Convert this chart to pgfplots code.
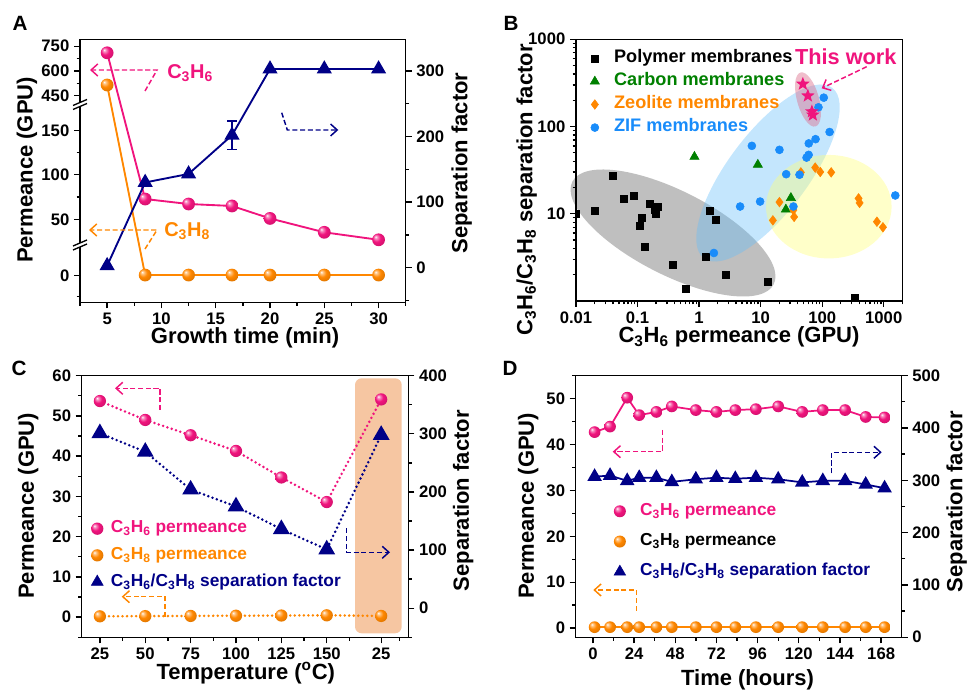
\documentclass[border=0pt]{standalone}
\usepackage{fontspec}
\setmainfont{Liberation Sans}
\usepackage{pgfplots}
\pgfplotsset{compat=1.18}
\usetikzlibrary{arrows.meta}

\definecolor{cpink}{RGB}{240,20,125}
\definecolor{corange}{RGB}{255,135,0}
\definecolor{cnavy}{RGB}{0,0,135}
\definecolor{cgreen}{RGB}{0,128,0}
\definecolor{cblue}{RGB}{25,140,250}
\definecolor{cpeach}{RGB}{246,198,162}
\definecolor{eblue}{RGB}{100,190,250}
\definecolor{eyellow}{RGB}{255,255,120}
\definecolor{epink}{RGB}{220,110,140}

\pgfdeclareradialshading{pinkballsh}{\pgfqpoint{-12bp}{12bp}}{color(0bp)=(white); color(5bp)=(white!55!cpink); color(16bp)=(cpink); color(30bp)=(cpink!88!black); color(50bp)=(cpink!70!black)}
\pgfdeclareradialshading{orangeballsh}{\pgfqpoint{-12bp}{12bp}}{color(0bp)=(white); color(5bp)=(white!55!corange); color(16bp)=(corange); color(30bp)=(corange!88!black); color(50bp)=(corange!72!black)}
\pgfdeclareplotmark{pinkball}{\pgfpathcircle{\pgfpointorigin}{\pgfplotmarksize}\pgfshadepath{pinkballsh}{0}\pgfusepath{}}
\pgfdeclareplotmark{orangeball}{\pgfpathcircle{\pgfpointorigin}{\pgfplotmarksize}\pgfshadepath{orangeballsh}{0}\pgfusepath{}}
\pgfdeclareplotmark{fstar}{%
 \pgfpathmoveto{\pgfpointpolar{90}{\pgfplotmarksize}}%
 \pgfpathlineto{\pgfpointpolar{126}{0.42*\pgfplotmarksize}}%
 \pgfpathlineto{\pgfpointpolar{162}{\pgfplotmarksize}}%
 \pgfpathlineto{\pgfpointpolar{198}{0.42*\pgfplotmarksize}}%
 \pgfpathlineto{\pgfpointpolar{234}{\pgfplotmarksize}}%
 \pgfpathlineto{\pgfpointpolar{270}{0.42*\pgfplotmarksize}}%
 \pgfpathlineto{\pgfpointpolar{306}{\pgfplotmarksize}}%
 \pgfpathlineto{\pgfpointpolar{342}{0.42*\pgfplotmarksize}}%
 \pgfpathlineto{\pgfpointpolar{18}{\pgfplotmarksize}}%
 \pgfpathlineto{\pgfpointpolar{54}{0.42*\pgfplotmarksize}}%
 \pgfpathclose\pgfusepathqfill}

\newcommand{\Cc}{C\textsubscript{3}H\textsubscript{6}}
\newcommand{\Ca}{C\textsubscript{3}H\textsubscript{8}}
\newcommand{\lab}{\fontsize{16.5}{19}\selectfont\bfseries}
\newcommand{\legf}{\fontsize{13}{15}\selectfont\bfseries}

\pgfplotsset{
 panel/.style={scale only axis, anchor=south west,
  axis line style={line width=1.1pt},
  tick style={line width=1pt, black},
  tick align=outside, major tick length=4.5pt, minor tick length=2.6pt,
  tick label style={font=\fontsize{12.5}{15}\selectfont\bfseries},
  /pgf/number format/assume math mode=true},
 legsty/.style={legend cell align=left,
  legend image code/.code={\path (-6pt,-1pt) (6pt,1pt); \draw[##1] plot coordinates {(0pt,0pt)};}},
 dotsty/.style={line width=2.1pt, line cap=round, dash pattern=on 0pt off 3.4pt}
}
\tikzset{annot/.style={line width=1.1pt, dash pattern=on 3.8pt off 2pt, -{Straight Barb[length=5pt,width=9pt]}}}

\begin{document}
\begin{tikzpicture}
\useasboundingbox (0,0) rectangle (725.25pt,518.25pt);
\begin{scope}[x=0.75pt,y=-0.75pt,yshift=518.25pt]
 \fill[black!25, shift={(673,233)}, rotate=-27] (0,0) ellipse [x radius=84.75pt, y radius=31.5pt];
 \fill[eblue, opacity=0.38, shift={(768,173)}, rotate=53] (0,0) ellipse [x radius=80pt, y radius=30pt];
 \fill[eyellow, opacity=0.4] (828.8,206.7) ellipse [x radius=47.1pt, y radius=38.8pt];
 \fill[epink, opacity=0.45, shift={(808,99.5)}, rotate=-74.5] (0,0) ellipse [x radius=21pt, y radius=8.25pt];
 \fill[cpeach, rounded corners=5pt] (355,378.3) rectangle (401.7,633.3);
\end{scope}

% ---------------- Panel A ----------------
\begin{axis}[panel, at={(60pt,291.5pt)}, width=244.3pt, height=197.25pt,
 xmin=2.5, xmax=32.5, ymin=0, ymax=263, tick pos=left,
 xtick={5,10,15,20,25,30}, minor xtick={2.5,7.5,12.5,17.5,22.5,27.5,32.5},
 ytick={27,83,127.5,172,206.6,231.4,256.1}, yticklabels={0,50,100,150,450,600,750},
 minor ytick={6,105.3,149.8,219,243.7}]
\addplot[cpink, line width=1.4pt, mark=pinkball, mark size=4.8pt] table[x=t, y expr={\thisrow{v}<20 ? 27+0.886*\thisrow{v} : (\thisrow{v}<300 ? 38.5+0.89*\thisrow{v} : 206.6+0.165*(\thisrow{v}-450))}] {
t v
5 710
8.5 72.8
12.5 67.2
16.5 65
20 51
25 35.4
30 27
};
\addplot[corange, line width=1.4pt, mark=orangeball, mark size=4.8pt] table[x=t, y expr={\thisrow{v}<20 ? 27+0.886*\thisrow{v} : (\thisrow{v}<300 ? 38.5+0.89*\thisrow{v} : 206.6+0.165*(\thisrow{v}-450))}] {
t v
5 515
8.5 0.3
12.5 0.3
16.5 0.3
20 0.3
25 0.3
30 0.3
};
\end{axis}
\begin{axis}[panel, at={(60pt,291.5pt)}, width=244.3pt, height=197.25pt,
 xmin=2.5, xmax=32.5, ymin=-52.8, ymax=348.3, axis x line=none, axis y line*=right,
 ytick={0,100,200,300}, minor ytick={-50,50,150,250}]
\addplot[draw=none, forget plot, error bars/.cd, y dir=both, y explicit,
 error bar style={line width=1.1pt, cnavy}, error mark options={rotate=90, mark size=3.5pt, line width=1.1pt, cnavy}]
 coordinates {(16.5,202) +- (0,22)};
\addplot[cnavy, line width=1.4pt, mark=triangle*, mark size=5.2pt, mark options={fill=cnavy}] coordinates {
(5,3) (8.5,130) (12.5,143) (16.5,202) (20,303) (25,303) (30,303)};
\end{axis}

% ---------------- Panel B ----------------
\begin{axis}[panel, xmode=log, ymode=log, at={(432pt,292.5pt)}, width=244.7pt, height=196.3pt,
 xmin=0.01, xmax=2000, ymin=1, ymax=1000, tick pos=left, clip marker paths=true,
 xtick={0.01,0.1,1,10,100,1000}, xticklabels={0.01,0.1,1,10,100,1000},
 ytick={10,100,1000}, yticklabels={10,100,1000},
 minor xtick={0.02,0.03,0.04,0.05,0.06,0.07,0.08,0.09,0.2,0.3,0.4,0.5,0.6,0.7,0.8,0.9,2,3,4,5,6,7,8,9,20,30,40,50,60,70,80,90,200,300,400,500,600,700,800,900,2000},
 minor ytick={2,3,4,5,6,7,8,9,20,30,40,50,60,70,80,90,200,300,400,500,600,700,800,900},
 legsty, legend style={at={(0.0316,0.962)}, anchor=north west, draw=none, fill=none, inner sep=0pt,
  row sep=3.9pt, column sep=8.25pt, font=\fontsize{13.6}{16}\selectfont\bfseries,
  nodes={inner sep=0pt, text height=9.9pt, text depth=3.5pt}}]
\addplot[only marks, mark=square*, mark size=2.6pt, black] coordinates {
(0.01,10) (0.02,10.9) (0.04,27.2) (0.059,14.9) (0.088,15.9) (0.158,12.9) (0.213,12.1) (0.193,11.1) (0.2,10.1) (0.118,9.1) (0.108,7.3) (0.129,4.2) (0.37,2.58) (0.615,1.39) (1.30,3.22) (1.49,10.9) (1.84,8.5) (2.7,1.99) (12.97,1.68) (333,1.10)};
\addlegendentry[text=black]{Polymer membranes}
\addplot[only marks, mark=triangle*, mark size=4pt, cgreen] coordinates {
(0.84,45) (9.0,36.5) (31,15.2) (25.7,11.2)};
\addlegendentry[text=cgreen]{Carbon membranes}
\addplot[only marks, mark=diamond*, mark size=3.6pt, corange] coordinates {
(45,29.8) (77,33.8) (93,30.1) (140,29.8) (20.2,13.6) (15.8,8.4) (34,11.0) (35,9.2) (390,15.0) (405,13.3) (775,8.1) (970,7.0)};
\addlegendentry[text=corange]{Zeolite membranes}
\addplot[only marks, mark=*, mark size=3pt, cblue] coordinates {
(106,214) (87,166) (132,86.5) (78,71.6) (60.5,64) (7.2,60) (20.2,54) (60.2,47.3) (55.7,44) (26,28.4) (42.8,28) (9.8,13.8) (4.64,12.1) (34.1,12.1) (1.74,3.55) (1540,16.2)};
\addlegendentry[text=cblue]{ZIF membranes}
\addplot[only marks, mark=fstar, mark size=5.4pt, cpink] coordinates {
(48.5,307) (58.5,225) (70.5,136) (68,148)};
\end{axis}

% ---------------- Panel C ----------------
\begin{axis}[panel, at={(61.3pt,40.3pt)}, width=245pt, height=196.2pt,
 xmin=15, xmax=195, ymin=-5, ymax=60, tick pos=left,
 xtick={25,50,75,100,125,150,180}, xticklabels={25,50,75,100,125,150,25},
 minor xtick={37.5,62.5,87.5,112.5,137.5,162.5,190},
 ytick={0,10,...,60}, minor ytick={-5,5,...,55},
 legsty, legend style={at={(0.0214,0.4495)}, anchor=north west, draw=none, fill=none, inner sep=0pt,
  row sep=6.9pt, column sep=4pt, font=\legf,
  nodes={inner sep=0pt, text height=9.6pt, text depth=3.5pt}}]
\addlegendimage{only marks, mark=pinkball, mark size=4.6pt}
\addlegendentry[text=cpink]{\Cc\ permeance}
\addlegendimage{only marks, mark=orangeball, mark size=4.6pt}
\addlegendentry[text=corange]{\Ca\ permeance}
\addlegendimage{only marks, mark=triangle*, mark size=5.2pt, cnavy, mark options={fill=cnavy}}
\addlegendentry[text=cnavy]{\Cc/\Ca\ separation factor}
\addplot[forget plot, cpink, dotsty, mark=pinkball, mark size=4.6pt] coordinates {
(25,53.7) (50,49.0) (75,45.2) (100,41.3) (125,34.7) (150,28.6) (180,54.1)};
\addplot[forget plot, corange, dotsty, mark=orangeball, mark size=4.6pt] coordinates {
(25,0.2) (50,0.25) (75,0.3) (100,0.35) (125,0.4) (150,0.45) (180,0.3)};
\end{axis}
\begin{axis}[panel, at={(61.3pt,40.3pt)}, width=245pt, height=196.2pt,
 xmin=15, xmax=195, ymin=-50, ymax=400, axis x line=none, axis y line*=right,
 ytick={0,100,...,400}, minor ytick={-50,50,150,250,350}]
\addplot[cnavy, dotsty, mark=triangle*, mark size=5.2pt, mark options={solid, fill=cnavy}] coordinates {
(25,301) (50,269) (75,204) (100,175) (125,136) (150,101) (180,298)};
\end{axis}

% ---------------- Panel D ----------------
\begin{axis}[panel, at={(431.8pt,40.3pt)}, width=244.5pt, height=196.2pt,
 xmin=-10, xmax=180, ymin=-2, ymax=55, tick pos=left,
 xtick={0,24,...,168}, minor xtick={12,36,...,156},
 ytick={0,10,...,50}, minor ytick={5,15,...,55},
 legsty, legend style={at={(0.1092,0.516)}, anchor=north west, draw=none, fill=none, inner sep=0pt,
  row sep=9.6pt, column sep=9pt, font=\legf,
  nodes={inner sep=0pt, text height=9.6pt, text depth=3.5pt}}]
\addlegendimage{only marks, mark=pinkball, mark size=4.5pt}
\addlegendentry[text=cpink]{\Cc\ permeance}
\addlegendimage{only marks, mark=orangeball, mark size=4.5pt}
\addlegendentry[text=black]{\Ca\ permeance}
\addlegendimage{only marks, mark=triangle*, mark size=5pt, cnavy, mark options={fill=cnavy}}
\addlegendentry[text=cnavy]{\Cc/\Ca\ separation factor}
\addplot[forget plot, cpink, line width=1.3pt, mark=pinkball, mark size=4.4pt] coordinates {
(1,42.7) (10,43.9) (20,50.2) (27,46.4) (37,47.1) (46,48.3) (60,47.5) (72,47.1) (83,47.5) (95,47.7) (108,48.3) (122,47.1) (134,47.5) (147,47.5) (159,46.0) (170,45.9)};
\addplot[forget plot, corange, line width=1.3pt, mark=orangeball, mark size=4.4pt] coordinates {
(1,0.2) (10,0.2) (20,0.2) (27,0.2) (37,0.2) (46,0.2) (60,0.2) (72,0.2) (83,0.2) (95,0.2) (108,0.2) (122,0.2) (134,0.2) (147,0.2) (159,0.2) (170,0.2)};
\end{axis}
\begin{axis}[panel, at={(431.8pt,40.3pt)}, width=244.5pt, height=196.2pt,
 xmin=-10, xmax=180, ymin=0, ymax=500, axis x line=none, axis y line*=right,
 ytick={0,100,...,500}, minor ytick={50,150,...,450}]
\addplot[cnavy, line width=1.3pt, mark=triangle*, mark size=5pt, mark options={fill=cnavy}] coordinates {
(1,307) (10,309) (20,299) (27,305) (37,305) (46,297) (60,302) (72,305) (83,303) (95,305) (108,302) (122,296) (134,299) (147,299) (159,292) (170,285)};
\end{axis}

% ---------------- Annotations ----------------
\begin{scope}[x=0.75pt,y=-0.75pt,yshift=518.25pt]
 % break marks panel A
 \foreach \yy in {104.5,245} {
  \fill[white] (73,\yy+1) -- (87,\yy-5) -- (87,\yy-1) -- (73,\yy+5) -- cycle;
  \draw[line width=1pt] (73,\yy+1) -- (87,\yy-5);
  \draw[line width=1pt] (73,\yy+5) -- (87,\yy-1);
 }
 % panel letters
 \node[font=\fontsize{15.5}{18}\selectfont\bfseries] at (20,23) {A};
 \node[font=\fontsize{15.5}{18}\selectfont\bfseries] at (511,23) {B};
 \node[font=\fontsize{15.5}{18}\selectfont\bfseries] at (19,368) {C};
 \node[font=\fontsize{15.5}{18}\selectfont\bfseries] at (510,368) {D};
 % panel A labels
 \node[font=\lab, rotate=90] at (27,170) {Permeance (GPU)};
 \node[font=\lab, rotate=90] at (461.7,163) {Separation factor};
 \node[font=\lab] at (245,338) {Growth time (min)};
 \node[font=\fontsize{15}{18}\selectfont\bfseries, text=cpink, anchor=west, inner sep=0pt] at (167,73) {\Cc};
 \node[font=\fontsize{15}{18}\selectfont\bfseries, text=corange, anchor=west, inner sep=0pt] at (164,231) {\Ca};
 \draw[annot, cpink] (145,91) -- (157,70) -- (90,70);
 \draw[annot, corange] (145,249) -- (157,230) -- (89,230);
 \draw[annot, cnavy] (281.7,112.7) -- (287.3,130) -- (338.3,130);
 % panel B labels
 \node[font=\lab, rotate=90] at (526.7,190) {\Cc/\Ca\ separation factor};
 \node[font=\lab] at (739,337) {\Cc\ permeance (GPU)};
 \node[font=\fontsize{16.3}{19}\selectfont\bfseries, text=cpink] at (845.8,56.7) {This work};
 \draw[annot, cpink] (866.7,66.7) -- (821.7,88.3);
 % panel C labels
 \node[font=\lab, rotate=90] at (28.3,505.8) {Permeance (GPU)};
 \node[font=\lab, rotate=90] at (463.3,500.8) {Separation factor};
 \node[font=\lab] at (245.8,673.3) {Temperature (\textsuperscript{o}C)};
 \draw[annot, cpink] (160,410) -- (160,388.3) -- (115,388.3);
 \draw[annot, corange] (165,616.7) -- (165,596.7) -- (121.7,596.7);
 \draw[annot, cnavy] (346.7,528.3) -- (346.7,552.3) -- (390,552.3);
 % panel D labels
 \node[font=\lab, rotate=90] at (528.3,505.8) {Permeance (GPU)};
 \node[font=\lab, rotate=90] at (956.7,501.7) {Separation factor};
 \node[font=\lab] at (747.5,680) {Time (hours)};
 \draw[annot, cpink] (662.7,430) -- (662.7,451.7) -- (612.7,451.7);
 \draw[annot, corange] (636.7,610.7) -- (636.7,590) -- (593.3,590);
 \draw[annot, cnavy] (831.7,473.3) -- (831.7,452.3) -- (881.7,452.3);
\end{scope}
\end{tikzpicture}
\end{document}
